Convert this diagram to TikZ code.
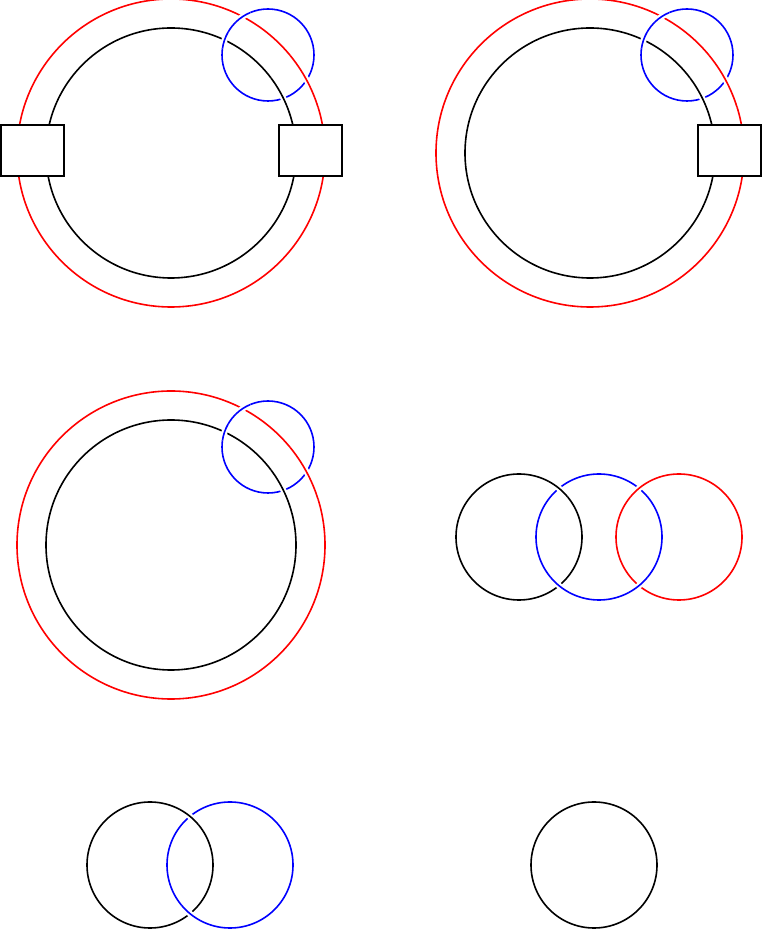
\documentclass[tikz,border=0pt]{standalone}
\usetikzlibrary{calc}
\tikzset{
  strand/.style={line width=1.6pt},
  over/.style={strand, preaction={draw=white, line width=6pt}},
  plug/.style={draw, strand, fill=white, minimum width=63pt, minimum height=51pt, inner sep=0pt}
}
% over-crossing arc: centre, radius, angle, colour
\newcommand{\overarc}[4]{%
  \draw[over, #4] ($(#1)+({#3-11}:#2pt)$) arc[start angle={#3-11}, end angle={#3+11}, radius=#2pt];}
% ring with red halo and blue link
\newcommand{\linkedring}[3]{%
  \coordinate (#1) at (#2pt,#3pt);
  \coordinate (#1b) at ($(#1)+(97pt,98pt)$);
  \draw[strand, red] (#1) circle[radius=154pt];
  \draw[strand] (#1) circle[radius=125pt];
  \draw[strand, blue] (#1b) circle[radius=46pt];
  \overarc{#1b}{46}{161.1}{blue}
  \overarc{#1}{125}{25.9}{black}
  \overarc{#1b}{46}{123.5}{blue}
  \overarc{#1}{154}{28.3}{red}}
\begin{document}
\begin{tikzpicture}[x=1pt,y=1pt]
  \useasboundingbox (0,0) rectangle (762,929);

  \linkedring{A}{171}{776}
  \node[plug] (A1) at (32.5,778.5) {};
  \node[plug] (A2) at (310.5,778.5) {};

  \linkedring{B}{590}{776}
  \node[plug] (B1) at (729.5,778.5) {};

  \linkedring{C}{171}{384}

  % chain of three
  \coordinate (D1) at (519,392);
  \coordinate (D2) at (599,392);
  \coordinate (D3) at (679,392);
  \draw[strand] (D1) circle[radius=63pt];
  \draw[strand, blue] (D2) circle[radius=63pt];
  \draw[strand, red] (D3) circle[radius=63pt];
  \overarc{D1}{63}{50.6}{black}
  \overarc{D2}{63}{230.6}{blue}
  \overarc{D3}{63}{129.4}{red}
  \overarc{D2}{63}{-50.6}{blue}

  % pair
  \coordinate (E1) at (150,64);
  \coordinate (E2) at (230,64);
  \draw[strand] (E1) circle[radius=63pt];
  \draw[strand, blue] (E2) circle[radius=63pt];
  \overarc{E1}{63}{50.6}{black}
  \overarc{E2}{63}{230.6}{blue}

  % single
  \coordinate (F) at (594,64);
  \draw[strand] (F) circle[radius=63pt];
\end{tikzpicture}
\end{document}
